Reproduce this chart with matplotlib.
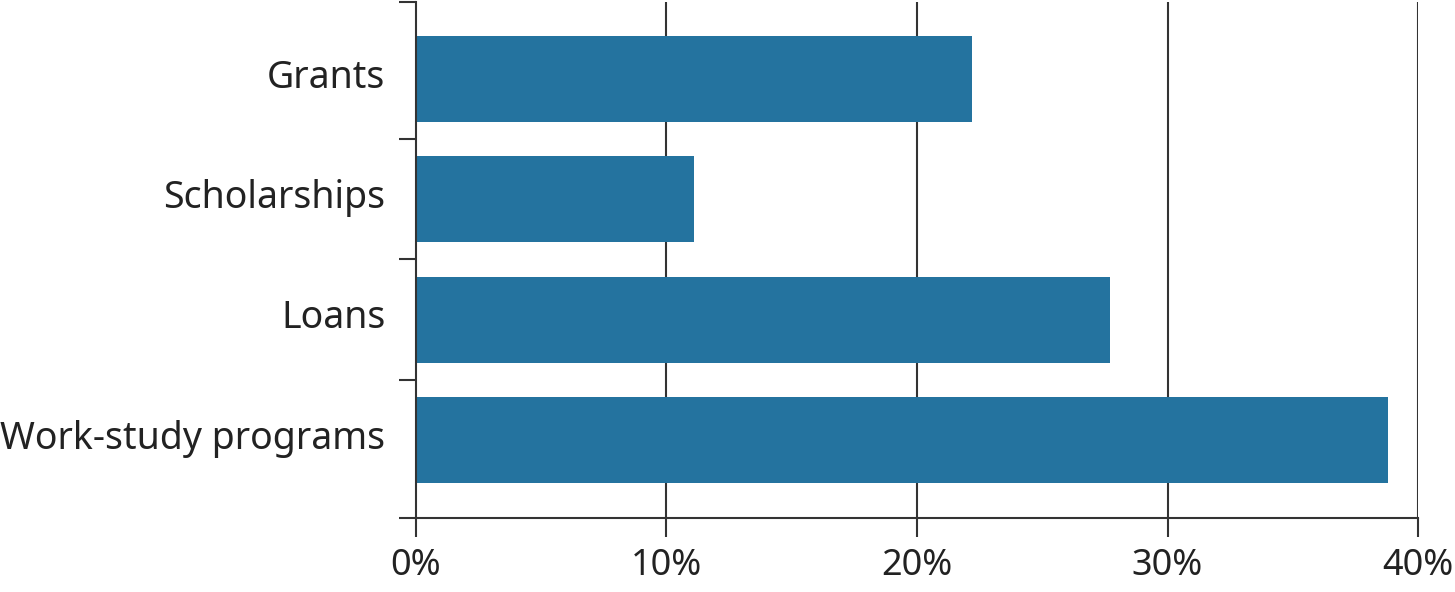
import matplotlib.pyplot as plt
import matplotlib.transforms as mtransforms
from matplotlib.ticker import FixedLocator, FuncFormatter

categories = ["Grants", "Scholarships", "Loans", "Work-study programs"]
values = [22.2, 11.1, 27.7, 38.8]
x_ticks = [0, 10, 20, 30, 40]

bar_color = "#24739f"
ink = "#222222"

plt.rcParams["font.family"] = ["Noto Sans", "DejaVu Sans"]

fig = plt.figure(figsize=(14.55, 5.92), dpi=100)
ax = fig.add_axes([0.2859, 0.125, 0.9746 - 0.2859, 0.9966 - 0.125])

pos = list(range(len(categories)))
ax.barh(pos, values, height=0.715, color=bar_color, zorder=2)

ax.set_xlim(0, 40)
ax.set_ylim(3.65, -0.64)

# vertical gridlines
for t in x_ticks[1:]:
    ax.axvline(t, color="#333333", lw=1.5, zorder=1)

ax.set_xticks(x_ticks)
ax.xaxis.set_major_formatter(FuncFormatter(lambda v, p: f"{v:.0f}%"))
ax.tick_params(axis="x", length=13.5, width=1.5, color="#333333",
               labelsize=26, labelcolor=ink, pad=8)

# category labels at centers, tick marks at boundaries
ax.set_yticks(pos)
ax.set_yticklabels(categories)
ax.yaxis.set_minor_locator(FixedLocator([-0.64, 0.5, 1.5, 2.5, 3.65]))
ax.tick_params(axis="y", which="major", length=0, labelsize=27,
               labelcolor=ink, pad=22)
ax.tick_params(axis="y", which="minor", length=12, width=1.5, color="#333333")

# nudge category labels up a little
shift = mtransforms.ScaledTranslation(0, 4 / 72, fig.dpi_scale_trans)
for lbl in ax.get_yticklabels():
    lbl.set_transform(lbl.get_transform() + shift)

for side in ["top", "right"]:
    ax.spines[side].set_visible(False)
for side in ["left", "bottom"]:
    ax.spines[side].set_color("#333333")
    ax.spines[side].set_linewidth(1.5)

fig.savefig("out.png", dpi=100)
